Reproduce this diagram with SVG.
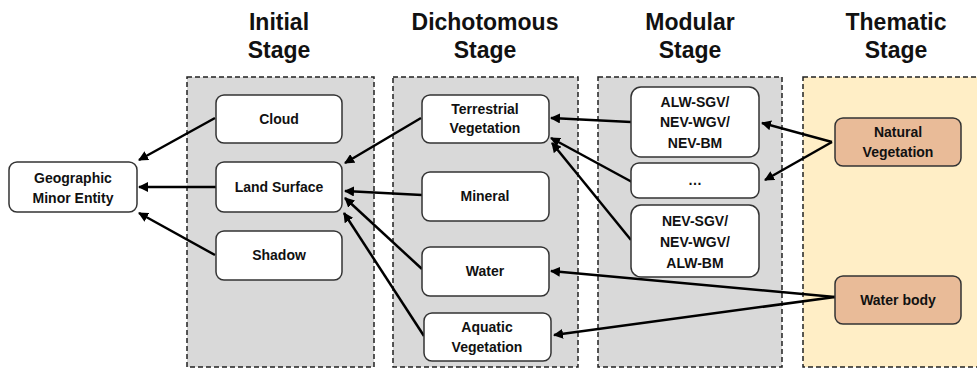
<svg xmlns="http://www.w3.org/2000/svg" width="977" height="371" viewBox="0 0 977 371">
<style>
.title{font-family:"Liberation Sans",Arial,sans-serif;font-weight:bold;font-size:23px;fill:#111;text-anchor:middle}
.panel{fill:#D9D9D9;stroke:#222;stroke-width:1.5;stroke-dasharray:5 3}
.panel.th{fill:#FFEEC6}
.node rect{fill:#fff;stroke:#333;stroke-width:1.5}
.node.tan rect{fill:#E9BB98}
.node text{font-family:"Liberation Sans",Arial,sans-serif;font-weight:bold;font-size:14px;fill:#111;text-anchor:middle}
.conn line{stroke:#000;stroke-width:2.5;marker-end:url(#ah)}
</style>
<defs>
<marker id="ah" viewBox="0 0 10 10" refX="9" refY="5" markerWidth="4" markerHeight="4" orient="auto" markerUnits="strokeWidth">
<path d="M0,0 L10,5 L0,10 z" fill="#000"/>
</marker>
</defs>
<rect width="977" height="371" fill="#fff"/>
<g id="titles">
<text class="title" x="279" y="30">Initial</text>
<text class="title" x="279" y="58">Stage</text>
<text class="title" x="485" y="30">Dichotomous</text>
<text class="title" x="485" y="58">Stage</text>
<text class="title" x="690" y="30">Modular</text>
<text class="title" x="690" y="58">Stage</text>
<text class="title" x="896" y="30">Thematic</text>
<text class="title" x="896" y="58">Stage</text>
</g>
<g id="panels">
<rect class="panel" x="187" y="77" width="187" height="290"/>
<rect class="panel" x="393" y="77" width="185" height="290"/>
<rect class="panel" x="598" y="77" width="184" height="290"/>
<rect class="panel th" x="803" y="77" width="184" height="290"/>
</g>
<g id="connectors" class="conn">
<line x1="215" y1="118" x2="139" y2="160"/>
<line x1="216" y1="187" x2="139" y2="187"/>
<line x1="215" y1="255" x2="139" y2="213"/>
<line x1="421" y1="118" x2="345" y2="163"/>
<line x1="422" y1="195" x2="345" y2="191"/>
<line x1="422" y1="269" x2="345" y2="198"/>
<line x1="424" y1="336" x2="344" y2="213"/>
<line x1="631" y1="122" x2="551" y2="118"/>
<line x1="632" y1="182" x2="551" y2="138"/>
<line x1="631" y1="240" x2="552" y2="143"/>
<line x1="832" y1="142" x2="762" y2="123"/>
<line x1="832" y1="142" x2="765" y2="180"/>
<line x1="835" y1="297" x2="551" y2="271"/>
<line x1="835" y1="297" x2="554" y2="335"/>
</g>
<g id="geo" class="node"><rect x="9" y="162" width="128" height="50" rx="8"/><text x="73" y="183">Geographic</text><text x="73" y="203">Minor Entity</text></g>
<g id="cloud" class="node"><rect x="216" y="95" width="126" height="48" rx="8"/><text x="279" y="124">Cloud</text></g>
<g id="land" class="node"><rect x="216" y="162" width="126" height="50" rx="8"/><text x="279" y="192">Land Surface</text></g>
<g id="shadow" class="node"><rect x="216" y="231" width="126" height="49" rx="8"/><text x="279" y="260">Shadow</text></g>
<g id="terr" class="node"><rect x="422" y="95" width="127" height="48" rx="8"/><text x="485" y="114">Terrestrial</text><text x="485" y="133">Vegetation</text></g>
<g id="mineral" class="node"><rect x="422" y="172" width="127" height="49" rx="8"/><text x="485" y="201">Mineral</text></g>
<g id="water" class="node"><rect x="422" y="247" width="127" height="49" rx="8"/><text x="485" y="276">Water</text></g>
<g id="aquatic" class="node"><rect x="424" y="313" width="127" height="48" rx="8"/><text x="487" y="332">Aquatic</text><text x="487" y="352">Vegetation</text></g>
<g id="mod1" class="node"><rect x="631" y="87" width="128" height="70" rx="10"/><text x="695" y="107">ALW-SGV/</text><text x="695" y="127">NEV-WGV/</text><text x="695" y="148">NEV-BM</text></g>
<g id="mod2" class="node"><rect x="631" y="163" width="128" height="35" rx="8"/><text x="695" y="185">…</text></g>
<g id="mod3" class="node"><rect x="631" y="205" width="128" height="72" rx="10"/><text x="695" y="226">NEV-SGV/</text><text x="695" y="247">NEV-WGV/</text><text x="695" y="268">ALW-BM</text></g>
<g id="natveg" class="node tan"><rect x="835" y="118" width="126" height="48" rx="8"/><text x="898" y="137">Natural</text><text x="898" y="157">Vegetation</text></g>
<g id="waterbody" class="node tan"><rect x="835" y="276" width="126" height="48" rx="8"/><text x="898" y="305">Water body</text></g>
</svg>
